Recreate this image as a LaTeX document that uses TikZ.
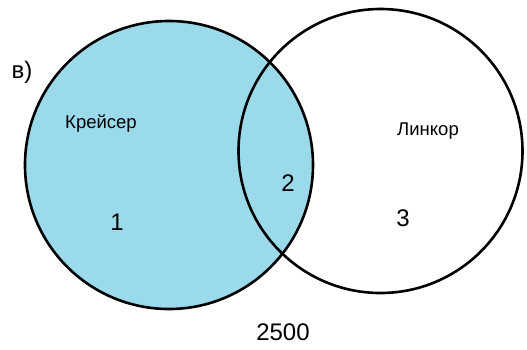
\documentclass[tikz,border=0pt]{standalone}
\usepackage{fontspec}
\setmainfont{Liberation Sans}
\definecolor{setfill}{RGB}{155,218,234}
\begin{document}
\begin{tikzpicture}[x=1pt,y=-1pt,
  setline/.style={line width=2.6pt, black},
  lbl/.style={inner sep=0pt, font=\fontsize{18.5}{22}\selectfont},
  num/.style={inner sep=0pt, font=\fontsize{24}{28}\selectfont}]
\useasboundingbox (0,0) rectangle (527,349);
% left set, shaded
\filldraw[setline, fill=setfill] (169,165) circle[radius=144];
% right set
\draw[setline] (380.5,151) circle[radius=142];
% labels
\node[num] (part) at (22,72) {в)};
\node[lbl] (kr) at (101,124) {Крейсер};
\node[lbl] (li) at (428,131) {Линкор};
\node[num] (n1) at (117,222) {1};
\node[num] (n2) at (288,183) {2};
\node[num] (n3) at (403,218) {3};
\node[num] (tot) at (283,332) {2500};
\end{tikzpicture}
\end{document}
